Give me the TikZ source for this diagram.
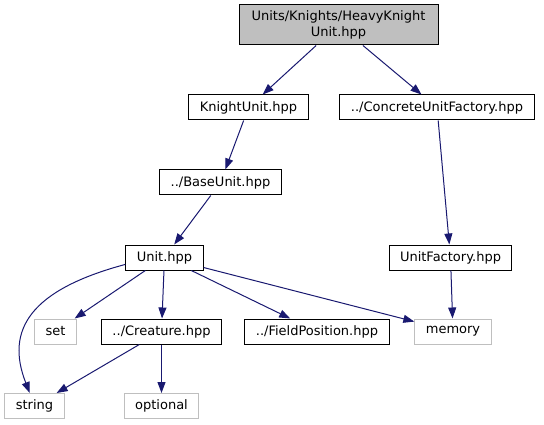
\documentclass[tikz,border=0pt]{standalone}
\usepackage{fontspec}
\setmainfont{DejaVu Sans}
\usetikzlibrary{arrows.meta}
\definecolor{edgeblue}{HTML}{191970}
\definecolor{sysgray}{HTML}{BFBFBF}
\definecolor{boxdark}{HTML}{404040}

\begin{document}
\begin{tikzpicture}[
    x=1pt, y=-1pt,
    font=\fontsize{13}{16}\selectfont,
    header/.style={draw=black, line width=1pt, align=center,
      minimum height=25pt, inner xsep=11pt, inner ysep=2pt},
    sysheader/.style={header, draw=sysgray},
    mainheader/.style={header, fill=sysgray, minimum width=199pt, minimum height=40pt},
    include/.style={-{Triangle[length=11pt, width=8pt]}, line width=1pt, draw=edgeblue}
  ]
    \useasboundingbox (0,0) rectangle (544,425);

    \node[mainheader] (heavy) at (338.5,25) {Units/Knights/HeavyKnight\\Unit.hpp};
    \node[header] (knightunit) at (248.5,107.5) {KnightUnit.hpp};
    \node[header] (concrete) at (437,107.5) {../ConcreteUnitFactory.hpp};
    \node[header] (baseunit) at (220.5,182.5) {../BaseUnit.hpp};
    \node[header] (unit) at (164.5,257.5) {Unit.hpp};
    \node[header] (unitfactory) at (450.5,257.5) {UnitFactory.hpp};

    \node[sysheader] (set) at (55.5,331.5) {set};
    \node[header] (creature) at (161.5,331.5) {../Creature.hpp};
    \node[header] (fieldpos) at (317,331.5) {../FieldPosition.hpp};
    \node[sysheader] (memory) at (453,331.5) {memory};
    \node[sysheader] (string) at (34.5,406) {string};
    \node[sysheader] (optional) at (161.5,406) {optional};

    \draw[include] (heavy) -- (knightunit);
    \draw[include] (heavy) -- (concrete);
    \draw[include] (knightunit) -- (baseunit);
    \draw[include] (baseunit) -- (unit);
    \draw[include] (concrete) -- (unitfactory);
    \draw[include] (unit.190) .. controls (30,290) and (5,330) .. (string.110);
    \draw[include] (unit) -- (set);
    \draw[include] (unit) -- (creature);
    \draw[include] (unit) -- (fieldpos);
    \draw[include] (unit) -- (memory);
    \draw[include] (unitfactory) -- (memory);
    \draw[include] (creature) -- (string);
    \draw[include] (creature) -- (optional);
  \end{tikzpicture}
\end{document}
